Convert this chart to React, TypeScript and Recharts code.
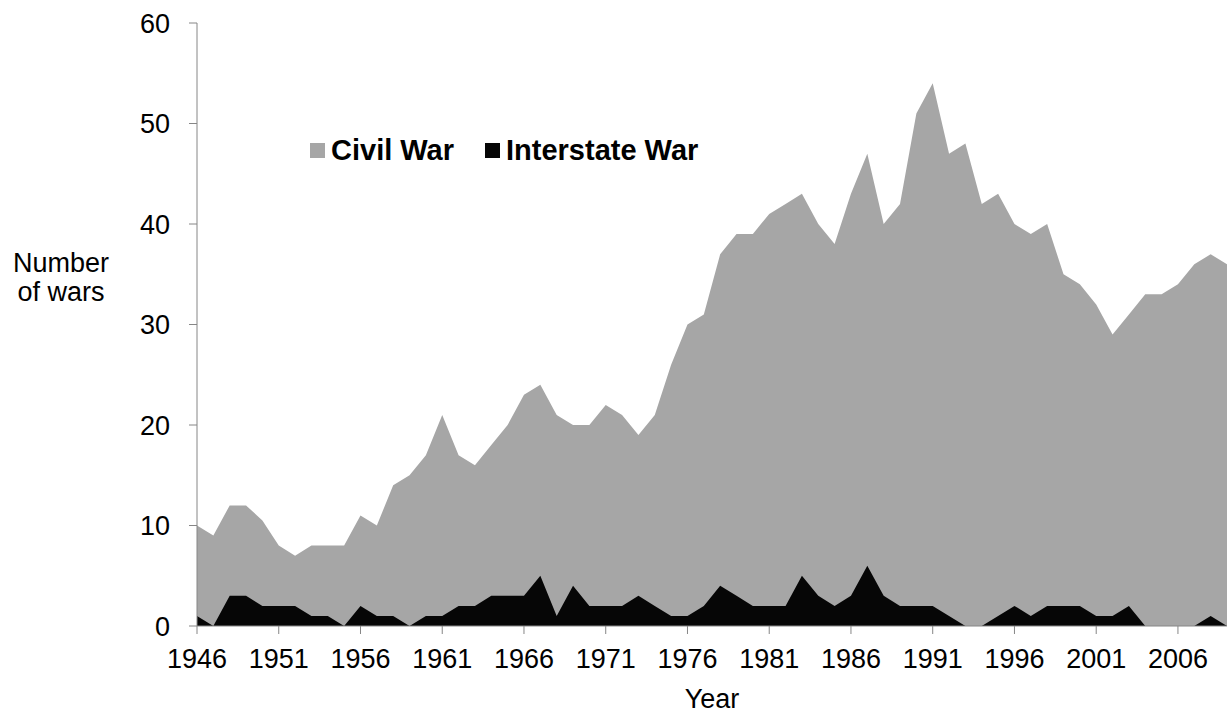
import React from "react";
import { Area, AreaChart, Label, XAxis, YAxis } from "recharts";

const years = [
  1946, 1947, 1948, 1949, 1950, 1951, 1952, 1953, 1954, 1955, 1956, 1957, 1958, 1959, 1960, 1961,
  1962, 1963, 1964, 1965, 1966, 1967, 1968, 1969, 1970, 1971, 1972, 1973, 1974, 1975, 1976, 1977,
  1978, 1979, 1980, 1981, 1982, 1983, 1984, 1985, 1986, 1987, 1988, 1989, 1990, 1991, 1992, 1993,
  1994, 1995, 1996, 1997, 1998, 1999, 2000, 2001, 2002, 2003, 2004, 2005, 2006, 2007, 2008, 2009,
];

const civilWar = [
  10, 9, 12, 12, 10.5, 8, 7, 8, 8, 8, 11, 10, 14, 15, 17, 21,
  17, 16, 18, 20, 23, 24, 21, 20, 20, 22, 21, 19, 21, 26, 30, 31,
  37, 39, 39, 41, 42, 43, 40, 38, 43, 47, 40, 42, 51, 54, 47, 48,
  42, 43, 40, 39, 40, 35, 34, 32, 29, 31, 33, 33, 34, 36, 37, 36,
];

const interstateWar = [
  1, 0, 3, 3, 2, 2, 2, 1, 1, 0, 2, 1, 1, 0, 1, 1,
  2, 2, 3, 3, 3, 5, 1, 4, 2, 2, 2, 3, 2, 1, 1, 2,
  4, 3, 2, 2, 2, 5, 3, 2, 3, 6, 3, 2, 2, 2, 1, 0,
  0, 1, 2, 1, 2, 2, 2, 1, 1, 2, 0, 0, 0, 0, 1, 0,
];

const yTicks = [0, 10, 20, 30, 40, 50, 60];

const GRAY = "#a6a6a6";
const BLACK = "#060606";
const AXIS = "#868686";

const chartData = years.map((year, i) => ({
  year,
  civil: civilWar[i],
  interstate: interstateWar[i],
}));

function LegendBox() {
  const item = (color: string, text: string, gap: number) => (
    <div style={{ display: "flex", alignItems: "center", marginRight: gap }}>
      <span style={{ width: 15, height: 15, background: color, marginRight: 6 }} />
      <span style={{ fontWeight: "bold", fontSize: 29, lineHeight: "29px", color: "#000" }}>{text}</span>
    </div>
  );
  return (
    <div style={{ position: "absolute", left: 310, top: 136, display: "flex", alignItems: "center", whiteSpace: "nowrap" }}>
      {item(GRAY, "Civil War", 31)}
      {item(BLACK, "Interstate War", 0)}
    </div>
  );
}

const yearLabel = (props: any) => {
  const { viewBox } = props;
  return (
    <text x={viewBox.x + viewBox.width / 2} y={viewBox.y + 82} textAnchor="middle" fontSize={27} fill="#000">
      Year
    </text>
  );
};

const warsLabel = (props: any) => {
  const { viewBox } = props;
  const cx = 61;
  return (
    <text textAnchor="middle" fontSize={27} fill="#000">
      <tspan x={cx} y={viewBox.y + 249}>Number</tspan>
      <tspan x={cx} y={viewBox.y + 278}>of wars</tspan>
    </text>
  );
};

export default function App() {
  return (
    <div style={{ position: "absolute", left: 0, top: 0, width: 1227, height: 713, background: "#fff", fontFamily: "Arial, 'Liberation Sans', sans-serif" }}>
      <AreaChart width={1227} height={713} data={chartData} margin={{ top: 23, right: 0, bottom: 0, left: 0 }}>
        <XAxis
          dataKey="year"
          interval={4}
          stroke={AXIS}
          tickSize={8}
          tickMargin={15}
          tick={{ fontSize: 27, fill: "#000" }}
          height={87}
        >
          <Label content={yearLabel} />
        </XAxis>
        <YAxis
          domain={[0, 60]}
          ticks={yTicks}
          width={197}
          stroke={AXIS}
          tickSize={8}
          tickMargin={19}
          tick={{ fontSize: 27, fill: "#000" }}
        >
          <Label content={warsLabel} />
        </YAxis>
        <Area
          type="linear"
          dataKey="civil"
          name="Civil War"
          fill={GRAY}
          fillOpacity={1}
          stroke="none"
          isAnimationActive={false}
        />
        <Area
          type="linear"
          dataKey="interstate"
          name="Interstate War"
          fill={BLACK}
          fillOpacity={1}
          stroke="none"
          isAnimationActive={false}
        />
      </AreaChart>
      <LegendBox />
    </div>
  );
}
